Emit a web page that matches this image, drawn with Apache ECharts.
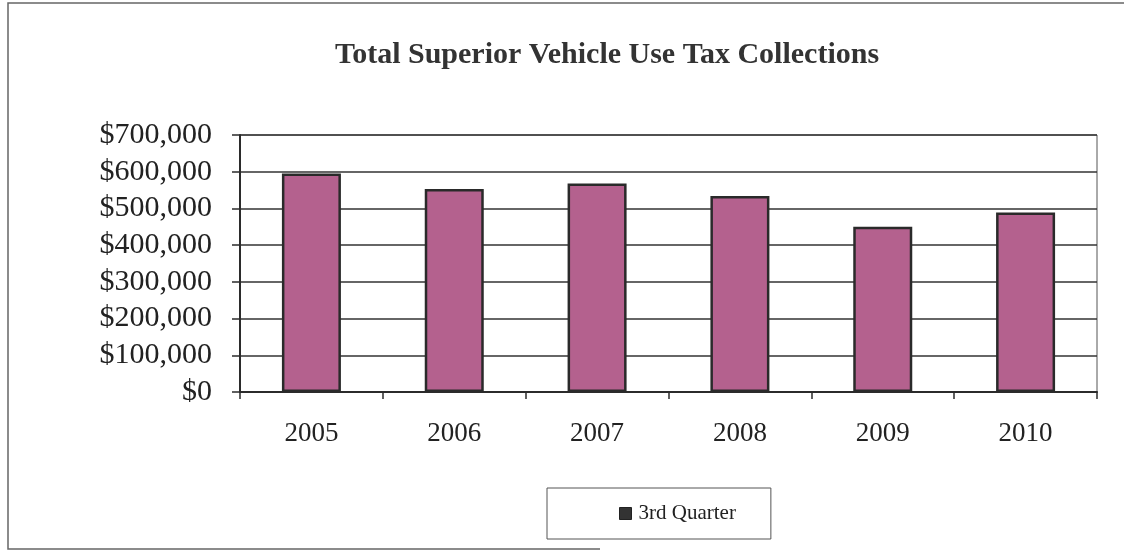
<!DOCTYPE html>
<html>
<head>
<meta charset="utf-8">
<script src="https://cdn.jsdelivr.net/npm/echarts@6/dist/echarts.min.js"></script>
<style>
  html, body { margin: 0; padding: 0; background: #fff; }
  #chart { width: 1124px; height: 552px; }
</style>
</head>
<body>
<div id="chart"></div>
<script>
// Annual 3rd-quarter vehicle use tax collections
const years = ['2005', '2006', '2007', '2008', '2009', '2010'];
const thirdQuarter = [595000, 553000, 568000, 534000, 450000, 489000];
const yTicks = { min: 0, max: 700000, step: 100000 };

const serif = '"Liberation Serif", "Times New Roman", serif';
const ink = '#2b2b2b';

const chart = echarts.init(document.getElementById('chart'), null, { renderer: 'canvas' });

chart.setOption({
  backgroundColor: '#ffffff',
  animation: false,
  title: {
    text: 'Total Superior Vehicle Use Tax Collections',
    left: 602,
    top: 35,
    textAlign: 'center',
    textStyle: { fontFamily: serif, fontWeight: 'bold', fontSize: 30, color: '#333' }
  },
  legend: {
    data: ['3rd Quarter'],
    left: 547,
    top: 488,
    padding: [15, 35, 15, 72],
    itemWidth: 12,
    itemHeight: 12,
    itemGap: 0,
    icon: 'rect',
    itemStyle: { color: '#333', borderColor: '#222', borderWidth: 1 },
    borderColor: '#555',
    borderWidth: 1,
    textStyle: { fontFamily: serif, fontSize: 21, color: '#222', padding: [0, 0, 0, 2] }
  },
  grid: {
    left: 240,
    right: 27,
    top: 135,
    bottom: 160,
    show: true,
    borderColor: '#555',
    borderWidth: 1
  },
  xAxis: {
    type: 'category',
    data: years,
    axisLine: { show: true, lineStyle: { color: ink, width: 2 } },
    axisTick: { show: true, length: 7, alignWithLabel: false, lineStyle: { color: ink, width: 1.5 } },
    axisLabel: { fontFamily: serif, fontSize: 27, color: '#222', margin: 28 }
  },
  yAxis: {
    type: 'value',
    min: yTicks.min,
    max: yTicks.max,
    interval: yTicks.step,
    axisLine: { show: true, lineStyle: { color: ink, width: 2 } },
    axisTick: { show: true, length: 8, lineStyle: { color: ink, width: 1.5 } },
    axisLabel: {
      fontFamily: serif,
      fontSize: 30,
      color: '#222',
      margin: 28,
      formatter: v => '$' + v.toLocaleString('en-US')
    },
    splitLine: { show: true, lineStyle: { color: '#333', width: 1.6 } }
  },
  series: [{
    name: '3rd Quarter',
    type: 'bar',
    data: thirdQuarter,
    barWidth: 59,
    itemStyle: { color: '#b4618e', borderColor: '#2a2a2a', borderWidth: 2.5 }
  }],
  graphic: [{
    type: 'polyline',
    silent: true,
    shape: { points: [[1124, 3], [8, 3], [8, 549], [600, 549]] },
    style: { stroke: '#666', lineWidth: 1.5, fill: null }
  }]
});
</script>
</body>
</html>
